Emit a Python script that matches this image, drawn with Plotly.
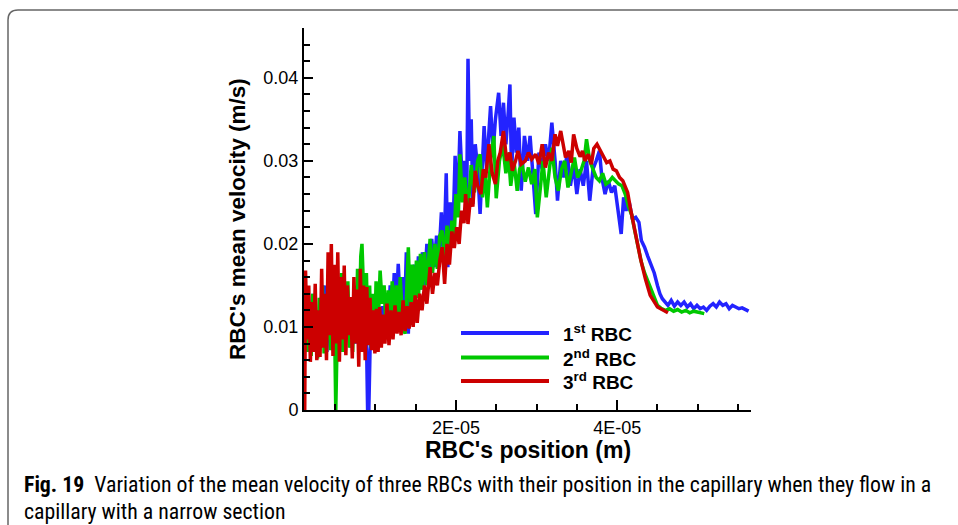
import numpy as np
import plotly.graph_objects as go

# ---------------- data (x in micrometres, v in m/s) ----------------
series_names = ["1<sup>st</sup> RBC", "2<sup>nd</sup> RBC", "3<sup>rd</sup> RBC"]
series_colors = ["#2323ff", "#00c800", "#cc0000"]

blue_x_um = [1.25, 1.5, 1.75, 2.0, 2.25, 2.5, 2.75, 3.0, 3.25, 3.5, 3.75, 4.0, 4.25, 4.5, 4.75, 5.0,
             5.25, 5.5, 5.75, 6.0, 6.25, 6.5, 6.75, 7.0, 7.25, 7.5, 7.75, 8.0, 8.25, 8.5, 8.75, 8.95,
             9.05, 9.2, 9.35, 9.6, 9.85, 10.1, 10.35, 10.6, 10.85, 11.1, 11.35, 11.6, 11.85, 12.1,
             12.35, 12.6, 12.85, 13.1, 13.35, 13.6, 13.85, 14.1, 14.35, 14.6, 14.85, 15.1, 15.35,
             15.6, 15.85, 16.1, 16.4, 16.7, 17.0, 17.3, 17.6, 17.9, 18.2, 18.5, 18.8, 19.0, 19.3,
             19.6, 19.9, 20.2, 20.5, 20.8, 21.1, 21.35, 21.5, 21.7, 21.9, 22.1, 22.4, 22.7, 23.0,
             23.3, 23.5, 23.8, 24.1, 24.3, 24.6, 24.9, 25.3, 25.6, 25.9, 26.2, 26.5, 26.7, 26.9,
             27.2, 27.5, 27.8, 28.1, 28.5, 28.9, 29.2, 29.5, 29.9, 30.3, 30.7, 31.1, 31.5, 31.9,
             32.3, 32.6, 33.0, 33.4, 33.8, 34.2, 34.6, 35.0, 35.4, 35.8, 36.2, 36.6, 37.0, 37.4,
             37.8, 38.1, 38.5, 38.9, 39.3, 39.7, 40.1, 40.5, 40.8, 41.1, 41.5, 41.9, 42.3, 42.7,
             43.0, 43.4, 43.8, 44.2, 44.6, 45.0, 45.3, 45.6, 45.9, 46.3, 46.7, 47.1, 47.5, 47.9,
             48.3, 48.7, 49.1, 49.5, 49.9, 50.3, 50.7, 51.1, 51.5, 51.9, 52.3, 52.7, 53.1, 53.5,
             53.9, 54.3, 54.7, 55.1, 55.5, 55.9, 56.3]
blue_v = [0.0110, 0.0070, 0.0130, 0.0080, 0.0140, 0.0075, 0.0120, 0.0065, 0.0135, 0.0080, 0.0150,
          0.0070, 0.0140, 0.0085, 0.0125, 0.0075, 0.0145, 0.0080, 0.0130, 0.0070, 0.0140, 0.0085,
          0.0120, 0.0075, 0.0135, 0.0080, 0.0125, 0.0070, 0.0130, 0.0075, 0.0110, 0.0060,
          0.0, 0.0, 0.0072, 0.0110, 0.0080, 0.0120, 0.0085, 0.0080, 0.0125, 0.0095, 0.0140,
          0.0100, 0.0150, 0.0110, 0.0165, 0.0120, 0.0176, 0.0125, 0.0160, 0.0100, 0.0190,
          0.0092, 0.0170, 0.0130, 0.0175, 0.0140, 0.0185, 0.0145, 0.0190, 0.0150, 0.0200,
          0.0155, 0.0206, 0.0172, 0.0210, 0.0185, 0.0238, 0.0180, 0.0285, 0.0172, 0.0250,
          0.0200, 0.0306, 0.0240, 0.0336, 0.0270, 0.0300, 0.0260, 0.0423, 0.0300, 0.0350,
          0.0248, 0.0320, 0.0290, 0.0236, 0.0300, 0.0342, 0.0290, 0.0330, 0.0366, 0.0310,
          0.0350, 0.0382, 0.0330, 0.0370, 0.0320, 0.0360, 0.0392, 0.0285, 0.0352, 0.0310,
          0.0340, 0.0264, 0.0330, 0.0300, 0.0330, 0.0290, 0.0236, 0.0310, 0.0290, 0.0320,
          0.0300, 0.0346, 0.0300, 0.0252, 0.0300, 0.0280, 0.0310, 0.0270, 0.0295, 0.0260,
          0.0290, 0.0270, 0.0300, 0.0252, 0.0290, 0.0300, 0.0312, 0.0280, 0.0260, 0.0276,
          0.0262, 0.0270, 0.0240, 0.0212, 0.0256, 0.0240, 0.0250, 0.0230, 0.0232, 0.0226,
          0.0204, 0.0196, 0.0185, 0.0176, 0.0165, 0.0150, 0.0140, 0.0134, 0.0130, 0.0126,
          0.0132, 0.0125, 0.0130, 0.0126, 0.0130, 0.0124, 0.0128, 0.0122, 0.0126, 0.0122,
          0.0124, 0.0120, 0.0125, 0.0128, 0.0124, 0.0130, 0.0126, 0.0128, 0.0122, 0.0126,
          0.0124, 0.0122, 0.0123, 0.0121, 0.0119]

green_x_um = [1.25, 1.45, 1.65, 1.85, 2.05, 2.25, 2.45, 2.65, 2.85, 3.05, 3.25, 3.45, 3.65, 3.85,
              4.05, 4.25, 4.45, 4.65, 4.85, 5.0, 5.1, 5.2, 5.4, 5.6, 5.8, 6.0, 6.2, 6.4, 6.6, 6.8,
              7.0, 7.2, 7.4, 7.6, 7.8, 8.0, 8.2, 8.35, 8.5, 8.7, 8.9, 9.1, 9.3, 9.5, 9.7, 9.9,
              10.1, 10.35, 10.6, 10.85, 11.1, 11.35, 11.6, 11.85, 12.1, 12.35, 12.6, 12.85, 13.1,
              13.4, 13.7, 13.9, 14.1, 14.35, 14.6, 14.85, 15.1, 15.35, 15.6, 15.85, 16.1, 16.4,
              16.8, 17.1, 17.4, 17.7, 18.0, 18.3, 18.6, 18.9, 19.2, 19.5, 19.8, 20.0, 20.3, 20.5,
              20.8, 21.1, 21.5, 21.9, 22.3, 22.7, 23.0, 23.3, 23.6, 23.9, 24.3, 24.7, 25.0, 25.4,
              25.8, 26.2, 26.5, 26.8, 27.2, 27.6, 27.9, 28.2, 28.6, 29.0, 29.4, 29.8, 30.1, 30.5,
              30.8, 31.2, 31.5, 31.9, 32.3, 32.7, 33.1, 33.5, 33.9, 34.3, 34.7, 35.1, 35.5, 35.9,
              36.2, 36.6, 37.0, 37.4, 37.8, 38.2, 38.6, 39.0, 39.4, 39.8, 40.2, 40.6, 41.0, 41.4,
              41.8, 42.2, 42.6, 43.0, 43.4, 43.8, 44.2, 44.6, 45.0, 45.5, 46.0, 46.5, 47.0, 47.5,
              48.0, 48.5, 49.0, 49.5, 50.0, 50.4, 50.8]
green_v = [0.0100, 0.0145, 0.0070, 0.0130, 0.0065, 0.0140, 0.0075, 0.0120, 0.0062, 0.0135, 0.0080,
           0.0150, 0.0068, 0.0125, 0.0085, 0.0160, 0.0072, 0.0140, 0.0080, 0.0070, 0.0, 0.0075,
           0.0150, 0.0085, 0.0165, 0.0070, 0.0140, 0.0090, 0.0155, 0.0075, 0.0130, 0.0070,
           0.0150, 0.0085, 0.0170, 0.0090, 0.0185, 0.0200, 0.0140, 0.0100, 0.0165, 0.0080,
           0.0150, 0.0075, 0.0140, 0.0080, 0.0155, 0.0100, 0.0168, 0.0128, 0.0150, 0.0095,
           0.0144, 0.0100, 0.0155, 0.0105, 0.0150, 0.0110, 0.0160, 0.0100, 0.0092, 0.0150,
           0.0196, 0.0120, 0.0175, 0.0130, 0.0180, 0.0135, 0.0188, 0.0145, 0.0190, 0.0150,
           0.0206, 0.0165, 0.0200, 0.0170, 0.0210, 0.0216, 0.0180, 0.0222, 0.0190, 0.0228,
           0.0210, 0.0260, 0.0232, 0.0308, 0.0250, 0.0280, 0.0240, 0.0295, 0.0262, 0.0300,
           0.0308, 0.0256, 0.0290, 0.0244, 0.0300, 0.0330, 0.0255, 0.0300, 0.0320, 0.0285,
           0.0310, 0.0270, 0.0300, 0.0264, 0.0290, 0.0296, 0.0275, 0.0292, 0.0272, 0.0290,
           0.0232, 0.0270, 0.0300, 0.0256, 0.0280, 0.0316, 0.0280, 0.0264, 0.0290, 0.0300,
           0.0268, 0.0285, 0.0304, 0.0280, 0.0288, 0.0300, 0.0326, 0.0300, 0.0290, 0.0280,
           0.0276, 0.0285, 0.0272, 0.0275, 0.0280, 0.0276, 0.0272, 0.0270, 0.0260, 0.0245,
           0.0235, 0.0215, 0.0195, 0.0178, 0.0165, 0.0155, 0.0145, 0.0135, 0.0126, 0.0122,
           0.0120, 0.0122, 0.0119, 0.0121, 0.0118, 0.0120, 0.0117, 0.0119, 0.0118, 0.0117,
           0.0116]

red_x_um = [1.25, 1.35, 1.55, 1.75, 1.95, 2.15, 2.35, 2.55, 2.75, 2.95, 3.15, 3.35, 3.55, 3.75,
            3.95, 4.15, 4.35, 4.55, 4.75, 4.95, 5.15, 5.35, 5.55, 5.75, 5.95, 6.15, 6.35, 6.55,
            6.75, 6.95, 7.15, 7.35, 7.55, 7.75, 7.95, 8.15, 8.35, 8.55, 8.75, 8.95, 9.15, 9.35,
            9.55, 9.75, 9.95, 10.15, 10.35, 10.55, 10.75, 10.95, 11.2, 11.45, 11.7, 11.95, 12.2,
            12.45, 12.7, 12.95, 13.2, 13.45, 13.7, 13.95, 14.2, 14.45, 14.7, 14.95, 15.2, 15.5,
            15.8, 16.1, 16.4, 16.8, 17.1, 17.4, 17.7, 18.0, 18.3, 18.6, 18.9, 19.2, 19.5, 19.8,
            20.1, 20.4, 20.7, 21.0, 21.2, 21.5, 21.8, 22.1, 22.4, 22.7, 23.1, 23.4, 23.7, 24.1,
            24.5, 24.9, 25.2, 25.5, 25.9, 26.3, 26.7, 27.0, 27.4, 27.7, 28.1, 28.6, 29.0, 29.4,
            29.9, 30.3, 30.7, 31.1, 31.5, 31.9, 32.3, 32.6, 33.0, 33.3, 33.6, 34.0, 34.3, 34.6,
            35.0, 35.4, 35.7, 36.0, 36.4, 36.8, 37.1, 37.5, 37.9, 38.3, 38.7, 39.1, 39.5, 39.9,
            40.3, 40.7, 41.0, 41.3, 41.6, 42.3, 42.9, 43.5, 44.1, 45.0, 46.0, 46.3]
red_v = [0.0, 0.0168, 0.0085, 0.0150, 0.0058, 0.0130, 0.0070, 0.0152, 0.0060, 0.0120, 0.0064,
         0.0170, 0.0075, 0.0140, 0.0060, 0.0190, 0.0090, 0.0200, 0.0065, 0.0175, 0.0080, 0.0190,
         0.0058, 0.0160, 0.0085, 0.0174, 0.0066, 0.0150, 0.0090, 0.0136, 0.0062, 0.0160, 0.0080,
         0.0145, 0.0052, 0.0170, 0.0070, 0.0150, 0.0060, 0.0148, 0.0078, 0.0135, 0.0072, 0.0120,
         0.0068, 0.0122, 0.0070, 0.0124, 0.0075, 0.0115, 0.0080, 0.0128, 0.0078, 0.0120, 0.0085,
         0.0126, 0.0092, 0.0118, 0.0090, 0.0132, 0.0095, 0.0125, 0.0098, 0.0130, 0.0100, 0.0138,
         0.0105, 0.0140, 0.0120, 0.0150, 0.0128, 0.0172, 0.0140, 0.0165, 0.0150, 0.0180, 0.0196,
         0.0152, 0.0200, 0.0175, 0.0215, 0.0195, 0.0220, 0.0200, 0.0240, 0.0225, 0.0260, 0.0224,
         0.0255, 0.0245, 0.0288, 0.0270, 0.0260, 0.0290, 0.0280, 0.0320, 0.0285, 0.0272, 0.0300,
         0.0310, 0.0336, 0.0300, 0.0310, 0.0288, 0.0300, 0.0312, 0.0296, 0.0300, 0.0310, 0.0302,
         0.0308, 0.0296, 0.0320, 0.0292, 0.0310, 0.0300, 0.0332, 0.0318, 0.0336, 0.0322, 0.0304,
         0.0312, 0.0298, 0.0332, 0.0315, 0.0305, 0.0312, 0.0300, 0.0308, 0.0296, 0.0315, 0.0320,
         0.0312, 0.0305, 0.0298, 0.0300, 0.0290, 0.0288, 0.0280, 0.0276, 0.0268, 0.0262, 0.0245,
         0.0210, 0.0182, 0.0158, 0.0138, 0.0124, 0.0118, 0.0117]

y_tick_vals = [0, 0.01, 0.02, 0.03, 0.04]
y_tick_text = ["0", "0.01", "0.02", "0.03", "0.04"]
x_tick_vals = [2e-05, 4e-05]
x_tick_text = ["2E-05", "4E-05"]

x_title = "RBC's position (m)"
y_title = "RBC's mean velocity (m/s)"
caption_1 = "<b>Fig. 19</b>  Variation of the mean velocity of three RBCs with their position in the capillary when they flow in a"
caption_2 = "capillary with a narrow section"

# ---------------- layout geometry ----------------
W, H = 958, 525
PL, PR, PT, PB = 304, 751, 28, 410


def px(xp):
    return (xp - PL) / (PR - PL)


def py(yp):
    return (PB - yp) / (PB - PT)


fig = go.Figure()
for xs, vs, name, col in [(blue_x_um, blue_v, series_names[0], series_colors[0]),
                          (green_x_um, green_v, series_names[1], series_colors[1]),
                          (red_x_um, red_v, series_names[2], series_colors[2])]:
    fig.add_trace(go.Scatter(x=np.array(xs) * 1e-6, y=vs, mode="lines", name=name,
                             line=dict(color=col, width=3.5), showlegend=False))

fig.update_layout(
    width=W, height=H, autosize=False,
    margin=dict(l=PL, r=W - PR, t=PT, b=H - PB),
    paper_bgcolor="white", plot_bgcolor="white",
    font=dict(family="Arial, Liberation Sans, sans-serif", color="black"),
)
fig.update_xaxes(range=[1.16e-06, 5.66e-05], showgrid=False, zeroline=False,
                 showline=True, linecolor="black", linewidth=2,
                 tickmode="array", tickvals=x_tick_vals, ticktext=x_tick_text,
                 ticks="inside", ticklen=10, tickwidth=2, tickcolor="black",
                 tickfont=dict(size=18),
                 minor=dict(tickmode="linear", tick0=0, dtick=5e-06, ticks="inside",
                            ticklen=6, tickwidth=1.5, tickcolor="black"))
fig.update_yaxes(range=[0, 0.046], showgrid=False, zeroline=False,
                 showline=True, linecolor="black", linewidth=2,
                 tickmode="array", tickvals=y_tick_vals, ticktext=y_tick_text,
                 ticks="inside", ticklen=9, tickwidth=2, tickcolor="black",
                 tickfont=dict(size=18),
                 minor=dict(tickmode="linear", tick0=0, dtick=0.002, ticks="inside",
                            ticklen=6, tickwidth=1.5, tickcolor="black"))

cap_font = dict(size=21.8, family="Liberation Sans Narrow, Arial Narrow, Roboto Condensed, Noto Sans")
annotations = [
    dict(text="<b>" + x_title + "</b>", x=0.5, y=py(450), xref="paper", yref="paper",
         xanchor="center", yanchor="middle", showarrow=False, font=dict(size=23)),
    dict(text="<b>" + y_title + "</b>", x=px(237), y=0.5, xref="paper", yref="paper",
         xanchor="center", yanchor="middle", textangle=-90, showarrow=False, font=dict(size=22.5)),
    dict(text=caption_1, x=px(22), y=py(484), xref="paper", yref="paper",
         xanchor="left", yanchor="middle", showarrow=False, font=cap_font),
    dict(text=caption_2, x=px(22), y=py(512), xref="paper", yref="paper",
         xanchor="left", yanchor="middle", showarrow=False, font=cap_font),
]

shapes = []
leg_y = [333, 357.5, 381]
for name, col, ly in zip(series_names, series_colors, leg_y):
    shapes.append(dict(type="line", xref="paper", yref="paper", x0=px(461), x1=px(549),
                       y0=py(ly), y1=py(ly), line=dict(color=col, width=4)))
    annotations.append(dict(text="<b>" + name + "</b>", x=px(561), y=py(ly), xref="paper",
                            yref="paper", xanchor="left", yanchor="middle", showarrow=False,
                            font=dict(size=19)))

# rounded frame of the figure box
fx, fy, r = 8, 10, 10
frame_path = (f"M {px(fx)},{py(540)} L {px(fx)},{py(fy + r)} "
              f"Q {px(fx)},{py(fy)} {px(fx + r)},{py(fy)} L {px(970)},{py(fy)}")
shapes.append(dict(type="path", xref="paper", yref="paper", path=frame_path,
                   line=dict(color="#666666", width=1.5)))

fig.update_layout(annotations=annotations, shapes=shapes)
fig.write_html("out.html", config={"displayModeBar": False},
               post_script="document.body.style.margin='0';document.body.style.overflow='hidden';")
